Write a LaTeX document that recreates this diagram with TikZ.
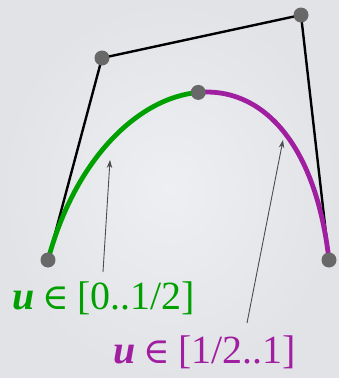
\documentclass[tikz,border=0pt]{standalone}
\usepackage{fontspec}
\setmainfont{Liberation Serif}
\newfontfamily\symfam{DejaVu Serif}
\usetikzlibrary{arrows.meta}
\definecolor{bgin}{RGB}{238,239,242}
\definecolor{bgout}{RGB}{226,227,231}
\definecolor{cgreen}{RGB}{0,160,0}
\definecolor{cpurple}{RGB}{160,30,160}
\definecolor{dotgray}{RGB}{104,104,104}
\tikzset{
  ctrl/.style={draw=black, line width=2.4pt, line join=round},
  dot/.style={circle, fill=dotgray, minimum size=15pt, inner sep=0pt},
  seg/.style={line width=4.8pt},
  pointer/.style={draw=black!70, line width=0.9pt, -{Stealth[length=8pt,width=5.5pt]}},
  lab/.style={anchor=base west, inner sep=0pt, font=\fontsize{40}{48}\selectfont}
}
\newcommand{\elem}{\hspace{0.2em}{\symfam\fontsize{36}{44}\selectfont ∈}\hspace{0.2em}}
\begin{document}
\begin{tikzpicture}[x=1pt,y=-1pt]
\shade[inner color=bgin, outer color=bgout] (0,0) rectangle (339,378);
\useasboundingbox (0,0) rectangle (339,378);
\coordinate (p0) at (48,260);
\coordinate (p1) at (102,58);
\coordinate (p2) at (301,15);
\coordinate (p3) at (329,260);
\coordinate (m) at (198.25,92.4);
% control polygon
\draw[ctrl] (p0) -- (p1) -- (p2) -- (p3);
% curve halves
\draw[seg, cgreen] (p0) .. controls (75,159) and (138.25,97.75) .. (m);
\draw[seg, cpurple] (m) .. controls (258.25,87) and (315,137.5) .. (p3);
% dots
\node[dot] (d0) at (p0) {};
\node[dot] (d1) at (p1) {};
\node[dot] (d2) at (p2) {};
\node[dot] (d3) at (p3) {};
\node[dot] (dm) at (m) {};
% labels
\node[lab, text=cgreen] (lg) at (12,309) {\textbf{\textit{u}}\elem[0..1/2]};
\node[lab, text=cpurple] (lp) at (113,363) {\textbf{\textit{u}}\elem[1/2..1]};
% pointers
\coordinate (ga) at (103,272);
\coordinate (gb) at (110,160);
\coordinate (pa) at (247,323);
\coordinate (pb) at (283,140);
\draw[pointer] (ga) -- (gb);
\draw[pointer] (pa) -- (pb);
\end{tikzpicture}
\end{document}
